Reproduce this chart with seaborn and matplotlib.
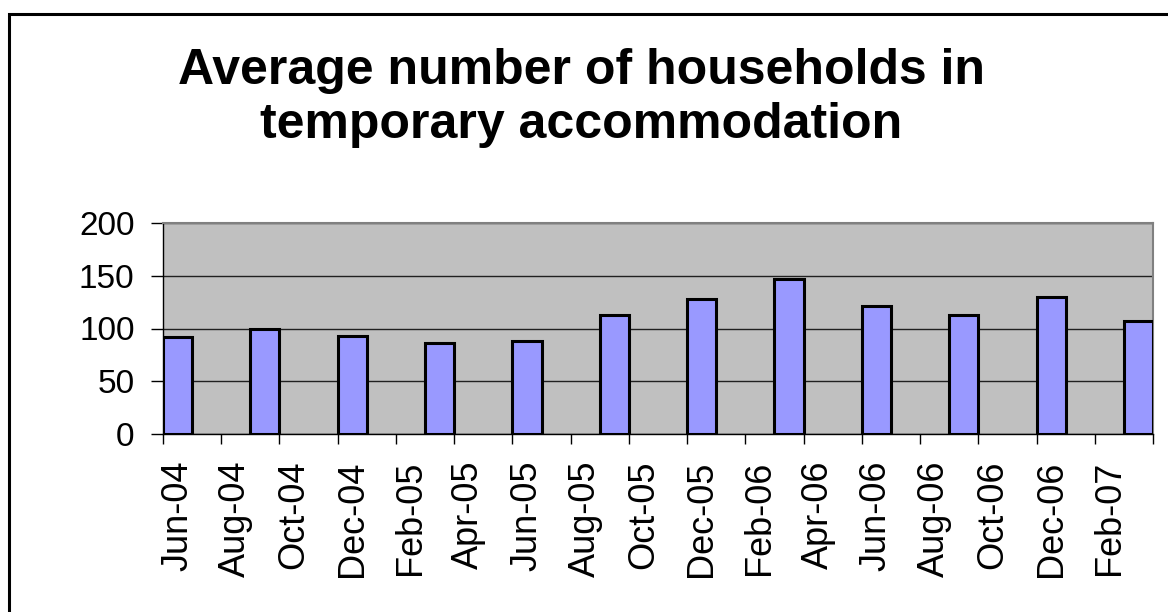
import pandas as pd
import matplotlib.pyplot as plt
import matplotlib.patches as mpatches
import seaborn as sns

TITLE_LINES = ["Average number of households in", "temporary accommodation"]

# quarterly averages, keyed by the month they were recorded
quarters = ['Jun-04', 'Sep-04', 'Dec-04', 'Mar-05', 'Jun-05', 'Sep-05',
            'Dec-05', 'Mar-06', 'Jun-06', 'Sep-06', 'Dec-06', 'Mar-07']
households = [92, 100, 93, 86, 88, 113, 128, 147, 121, 113, 130, 107]

y_ticks = [0, 50, 100, 150, 200]

BAR_COLOR = '#9999FF'
PLOT_BG = '#C0C0C0'


def build_frame():
    """Date axis like Excel: one slot per month, only quarters hold a value."""
    months = pd.date_range('2004-06-01', '2007-03-01', freq='MS').strftime('%b-%y')
    df = pd.DataFrame({'month': list(months)})
    vals = pd.DataFrame({'month': quarters, 'households': households})
    return df.merge(vals, on='month', how='left')


def draw(df):
    W, H = 1168, 612
    fig = plt.figure(figsize=(W / 100, H / 100), dpi=100)
    ax = fig.add_axes([163 / W, 1 - 434 / H, 990 / W, 211 / H])
    ax.set_facecolor(PLOT_BG)

    order = list(df['month'])
    sns.barplot(data=df, x='month', y='households', order=order, width=1,
                color=BAR_COLOR, saturation=1, edgecolor='black',
                linewidth=2.2, ax=ax, zorder=3)

    n = len(order)
    ax.set_xlim(-0.5, n - 0.5)
    ax.set_ylim(y_ticks[0], y_ticks[-1])

    # grid lines
    ax.set_axisbelow(True)
    ax.set_yticks(y_ticks)
    ax.yaxis.grid(True, color='#202020', linewidth=1.0)
    ax.xaxis.grid(False)

    # labels every other month, centred on the slot; marks on slot edges
    ax.set_xticks(range(0, n, 2))
    ax.set_xticklabels(order[::2], rotation=90)
    ax.set_xticks([i - 0.5 for i in range(0, n + 1, 2)], minor=True)
    ax.tick_params(axis='x', which='major', length=0, pad=19, labelsize=26)
    ax.tick_params(axis='x', which='minor', length=7.5, width=1, color='black',
                   direction='out', bottom=True)
    ax.tick_params(axis='y', which='major', length=8.5, width=1, color='black',
                   direction='out', left=True, pad=12, labelsize=24)

    ax.set_xlabel('')
    ax.set_ylabel('')

    for side in ['left', 'bottom']:
        ax.spines[side].set_color('black')
        ax.spines[side].set_linewidth(1.0)
    for side in ['top', 'right']:
        ax.spines[side].set_color('#808080')
        ax.spines[side].set_linewidth(1.5)

    # title, two lines
    for line, base in zip(TITLE_LINES, [84, 138]):
        fig.text(581 / W, 1 - base / H, line, ha='center', va='baseline',
                 fontsize=36, fontweight='bold', color='black')

    # chart frame, runs past the right and bottom edges
    frame = mpatches.Rectangle((9 / W, -0.1), 1.2, 1 - 13.5 / H + 0.1,
                               transform=fig.transFigure, fill=False,
                               edgecolor='black', linewidth=2.2)
    fig.patches.append(frame)
    return fig


def main():
    sns.set_style('white')
    plt.rcParams['font.family'] = ['Liberation Sans', 'DejaVu Sans']
    plt.rcParams['text.color'] = 'black'
    plt.rcParams['xtick.color'] = 'black'
    plt.rcParams['ytick.color'] = 'black'
    df = build_frame()
    fig = draw(df)
    fig.savefig('out.png', dpi=100)
    plt.close(fig)


if __name__ == "__main__":
    main()
